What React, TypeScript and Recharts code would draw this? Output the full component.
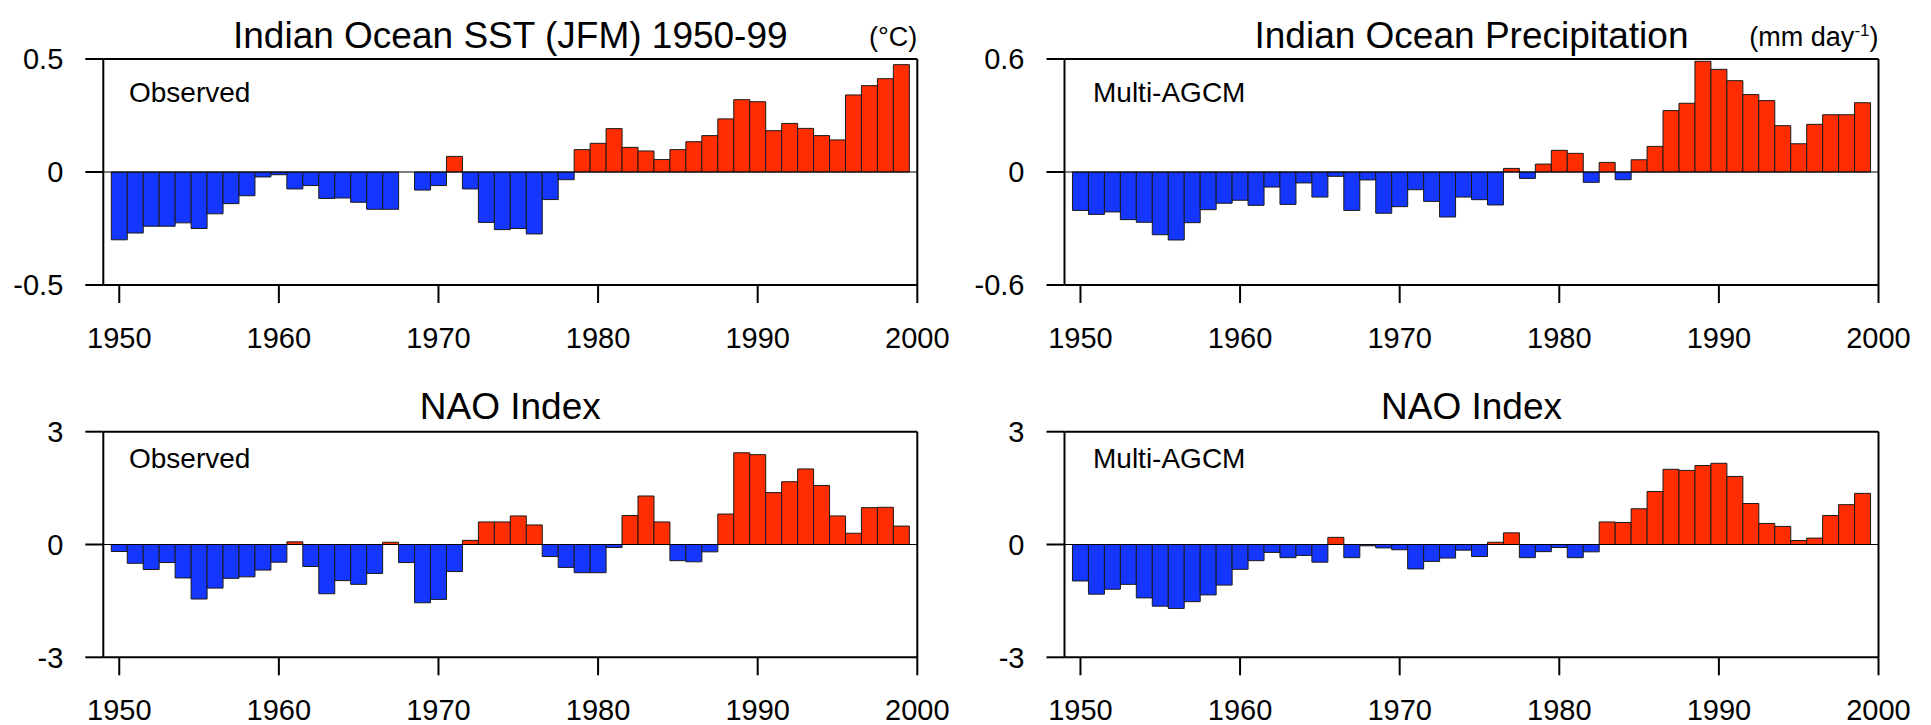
import React from 'react';
import { BarChart, Bar, XAxis, YAxis, Cell, ReferenceLine } from 'recharts';

const YEARS = [
  1950, 1951, 1952, 1953, 1954, 1955, 1956, 1957, 1958, 1959,
  1960, 1961, 1962, 1963, 1964, 1965, 1966, 1967, 1968, 1969,
  1970, 1971, 1972, 1973, 1974, 1975, 1976, 1977, 1978, 1979,
  1980, 1981, 1982, 1983, 1984, 1985, 1986, 1987, 1988, 1989,
  1990, 1991, 1992, 1993, 1994, 1995, 1996, 1997, 1998, 1999,
];

const SST_OBS = [
  -0.3, -0.27, -0.24, -0.24, -0.225, -0.25, -0.185, -0.14, -0.105, -0.022,
  -0.012, -0.075, -0.06, -0.117, -0.115, -0.134, -0.165, -0.165, 0, -0.08,
  -0.06, 0.069, -0.075, -0.223, -0.255, -0.25, -0.274, -0.122, -0.034, 0.099,
  0.127, 0.192, 0.109, 0.093, 0.055, 0.099, 0.134, 0.161, 0.235, 0.32,
  0.311, 0.183, 0.215, 0.193, 0.161, 0.142, 0.341, 0.382, 0.413, 0.475,
];

const PRECIP_AGCM = [
  -0.204, -0.225, -0.212, -0.253, -0.267, -0.333, -0.361, -0.269, -0.2, -0.166,
  -0.15, -0.177, -0.08, -0.172, -0.058, -0.133, -0.023, -0.204, -0.042, -0.219,
  -0.184, -0.094, -0.156, -0.239, -0.133, -0.147, -0.175, 0.019, -0.034, 0.042,
  0.115, 0.099, -0.055, 0.051, -0.041, 0.065, 0.136, 0.326, 0.365, 0.588,
  0.545, 0.485, 0.411, 0.379, 0.246, 0.15, 0.253, 0.304, 0.304, 0.368,
];

const NAO_OBS = [
  -0.186, -0.5, -0.665, -0.48, -0.89, -1.45, -1.16, -0.9, -0.86, -0.68,
  -0.47, 0.07, -0.585, -1.31, -0.96, -1.06, -0.77, 0.06, -0.48, -1.55,
  -1.46, -0.72, 0.11, 0.6, 0.6, 0.76, 0.52, -0.32, -0.61, -0.75,
  -0.75, -0.08, 0.77, 1.29, 0.6, -0.43, -0.46, -0.195, 0.81, 2.44,
  2.39, 1.38, 1.67, 2.01, 1.57, 0.76, 0.3, 0.98, 0.99, 0.49,
];

const NAO_AGCM = [
  -0.97, -1.32, -1.19, -1.06, -1.42, -1.64, -1.7, -1.52, -1.34, -1.08,
  -0.66, -0.43, -0.21, -0.35, -0.29, -0.47, 0.19, -0.35, -0.035, -0.09,
  -0.14, -0.65, -0.45, -0.36, -0.15, -0.32, 0.06, 0.31, -0.35, -0.19,
  -0.08, -0.35, -0.195, 0.6, 0.585, 0.95, 1.41, 2.0, 1.97, 2.1,
  2.16, 1.81, 1.09, 0.56, 0.48, 0.106, 0.17, 0.77, 1.06, 1.36,
];

const X_TICKS = [1950, 1960, 1970, 1980, 1990, 2000];
const X_DOMAIN = [1949, 2000];
const SST_TICKS = [-0.5, 0, 0.5];
const PRECIP_TICKS = [-0.6, 0, 0.6];
const NAO_TICKS = [-3, 0, 3];

const FONT = "'Liberation Sans', Arial, Helvetica, sans-serif";
const RED = '#FF2D00';
const BLUE = '#1536FF';

type PanelProps = {
  left: number;
  top: number;
  width: number;
  height: number;
  margin: { top: number; right: number; bottom: number; left: number };
  xAxisHeight: number;
  values: number[];
  yTicks: number[];
};

function Panel({ left, top, width, height, margin, xAxisHeight, values, yTicks }: PanelProps) {
  const data = YEARS.map((year, i) => ({ year, value: values[i] }));
  const yMin = yTicks[0];
  const yMax = yTicks[yTicks.length - 1];
  const line = { stroke: '#000', strokeWidth: 2 };
  const tickStyle = { fill: '#000', fontSize: 29, fontFamily: FONT };
  return (
    <div style={{ position: 'absolute', left, top, width, height }}>
      <BarChart width={width} height={height} data={data} margin={margin} barCategoryGap={0} barGap={0}>
        <XAxis
          dataKey="year"
          type="number"
          domain={X_DOMAIN}
          ticks={X_TICKS}
          interval={0}
          allowDataOverflow
          height={xAxisHeight}
          tickSize={18}
          tickMargin={24}
          axisLine={line}
          tickLine={line}
          tick={tickStyle}
        />
        <YAxis
          type="number"
          domain={[yMin, yMax]}
          ticks={yTicks}
          interval={0}
          allowDataOverflow
          width={60}
          tickSize={18}
          tickMargin={22}
          axisLine={line}
          tickLine={line}
          tick={tickStyle}
        />
        <Bar dataKey="value" isAnimationActive={false} stroke="#1a1a1a" strokeWidth={1}>
          {data.map((d, i) => (
            <Cell key={i} fill={d.value >= 0 ? RED : BLUE} />
          ))}
        </Bar>
        <ReferenceLine y={0} stroke="#000" strokeWidth={1.2} />
        <ReferenceLine y={yMax} stroke="#000" strokeWidth={2} ifOverflow="visible" />
        <ReferenceLine x={X_DOMAIN[1]} stroke="#000" strokeWidth={2} ifOverflow="visible" />
      </BarChart>
    </div>
  );
}

export default function App() {
  const titleStyle = { fontFamily: FONT, fontSize: 37, fill: '#000' };
  const unitStyle = { fontFamily: FONT, fontSize: 27, fill: '#000' };
  const innerStyle = { fontFamily: FONT, fontSize: 28, fill: '#000' };
  return (
    <div style={{ position: 'absolute', left: 0, top: 0, width: 1931, height: 725, background: '#fff', overflow: 'hidden' }}>
      <Panel
        left={0}
        top={0}
        width={960}
        height={380}
        margin={{ top: 59, right: 42.7, bottom: 15, left: 43.3 }}
        xAxisHeight={80}
        values={SST_OBS}
        yTicks={SST_TICKS}
      />
      <Panel
        left={965}
        top={0}
        width={960}
        height={380}
        margin={{ top: 59, right: 46.5, bottom: 15, left: 39.5 }}
        xAxisHeight={80}
        values={PRECIP_AGCM}
        yTicks={PRECIP_TICKS}
      />
      <Panel
        left={0}
        top={372}
        width={960}
        height={353}
        margin={{ top: 59.7, right: 42.7, bottom: 0, left: 43.3 }}
        xAxisHeight={67.7}
        values={NAO_OBS}
        yTicks={NAO_TICKS}
      />
      <Panel
        left={965}
        top={372}
        width={960}
        height={353}
        margin={{ top: 59.7, right: 46.5, bottom: 0, left: 39.5 }}
        xAxisHeight={67.7}
        values={NAO_AGCM}
        yTicks={NAO_TICKS}
      />
      <svg
        width={1931}
        height={725}
        style={{ position: 'absolute', left: 0, top: 0, pointerEvents: 'none' }}
      >
        <text x={510.3} y={48} textAnchor="middle" style={titleStyle}>Indian Ocean SST (JFM) 1950-99</text>
        <text x={917.3} y={46} textAnchor="end" style={unitStyle}>(°C)</text>
        <text x={1471.5} y={48} textAnchor="middle" style={titleStyle}>Indian Ocean Precipitation</text>
        <text x={1878.5} y={46} textAnchor="end" style={unitStyle}>
          (mm day<tspan dy={-10} fontSize={17}>-1</tspan><tspan dy={10}>)</tspan>
        </text>
        <text x={510.3} y={419} textAnchor="middle" style={titleStyle}>NAO Index</text>
        <text x={1471.5} y={419} textAnchor="middle" style={titleStyle}>NAO Index</text>
        <text x={129} y={101.7} style={innerStyle}>Observed</text>
        <text x={1093} y={101.7} style={innerStyle}>Multi-AGCM</text>
        <text x={129} y={468.3} style={innerStyle}>Observed</text>
        <text x={1093} y={468.3} style={innerStyle}>Multi-AGCM</text>
      </svg>
    </div>
  );
}
